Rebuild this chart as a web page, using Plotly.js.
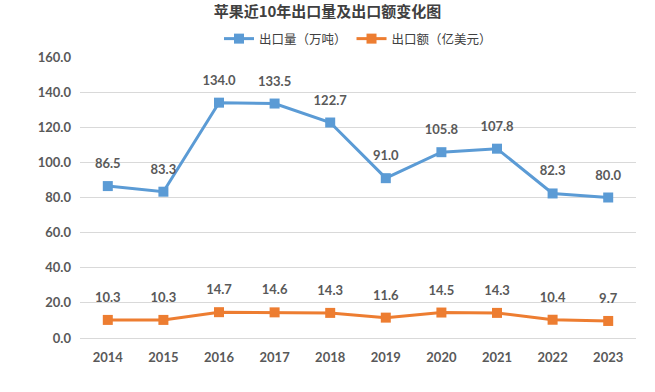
<!DOCTYPE html>
<html><head><meta charset="utf-8">
<script src="https://cdn.plot.ly/plotly-3.0.1.min.js"></script>
<style>body{margin:0;background:#fff}#c{width:655px;height:392px}</style>
</head><body><div id="c"></div>
<script>
const years = ['2014','2015','2016','2017','2018','2019','2020','2021','2022','2023'];
const volume = [86.5, 83.3, 134.0, 133.5, 122.7, 91.0, 105.8, 107.8, 82.3, 80.0];
const value = [10.3, 10.3, 14.7, 14.6, 14.3, 11.6, 14.5, 14.3, 10.4, 9.7];
const seriesNames = ['出口量（万吨）', '出口额（亿美元）'];
const titleText = '苹果近10年出口量及出口额变化图';
const yTicks = [0,20,40,60,80,100,120,140,160];

const lab = {family:'Lato, "Noto Sans", sans-serif', size:13, color:'#595959', weight:'bold'};
function tr(y, name, color){
  return {x: years, y: y, name: name, type:'scatter', mode:'lines+markers',
    line:{color:color, width:3}, marker:{symbol:'square', size:10, color:color},
    cliponaxis:false, hoverinfo:'skip'};
}
function lbl(y){
  return {x: years, y: y, type:'scatter', mode:'markers+text', showlegend:false,
    marker:{size:22, color:'rgba(0,0,0,0)'},
    text: y.map(v=>v.toFixed(1)), textposition:'top center',
    textfont: lab, cliponaxis:false, hoverinfo:'skip'};
}
const data = [tr(volume, seriesNames[0], '#5B9BD5'), tr(value, seriesNames[1], '#ED7D31'), lbl(volume), lbl(value)];
const layout = {
  width:655, height:392, paper_bgcolor:'#fff', plot_bgcolor:'#fff',
  margin:{l:80, r:19, t:57, b:54},
  title:{text:titleText, x:0.5, xanchor:'center', y:1-6/392, yref:'container', yanchor:'top', pad:{t:0,b:0},
    font:{family:'"Noto Sans CJK SC"', size:15, color:'#404040', weight:'bold'}},
  showlegend:true,
  legend:{orientation:'h', x:0.5, xanchor:'center', y:1-24/392, yref:'container', yanchor:'top',
    font:{family:'"Noto Sans CJK SC"', size:12.5, color:'#404040'}, itemwidth:30, tracegroupgap:0},
  xaxis:{type:'category', range:[-0.5, 9.5], autorange:false, showgrid:false, showline:false, zeroline:false, ticks:'',
    tickfont:lab, ticklabelstandoff:10},
  yaxis:{range:[0,160], autorange:false, tickvals:yTicks, ticktext:yTicks.map(v=>v.toFixed(1)),
    showgrid:true, gridcolor:'#D9D9D9', gridwidth:1, zeroline:true, zerolinecolor:'#D9D9D9',
    showline:false, ticks:'', tickfont:lab, ticklabelstandoff:8}
};
Plotly.newPlot('c', data, layout, {displayModeBar:false, staticPlot:true});
</script></body></html>
